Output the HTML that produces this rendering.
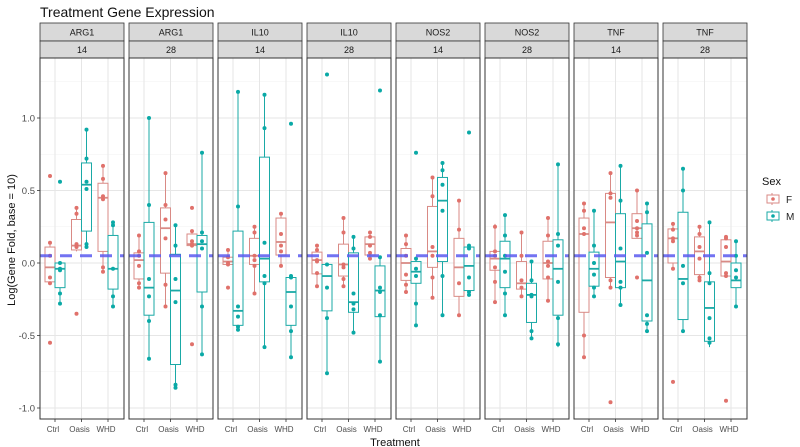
<!DOCTYPE html>
<html><head><meta charset="utf-8"><style>
html,body{margin:0;padding:0;background:#fff;}
svg{display:block;font-family:"Liberation Sans",Arial,sans-serif;}
</style></head><body>
<svg id="chart" width="800" height="447" viewBox="0 0 800 447" xmlns="http://www.w3.org/2000/svg">
<text x="40" y="17" font-size="14" fill="#111">Treatment Gene Expression</text>
<text transform="translate(15,240) rotate(-90)" text-anchor="middle" font-size="11" fill="#111">Log(Gene Fold, base = 10)</text>
<text x="395" y="446" text-anchor="middle" font-size="11" fill="#111">Treatment</text>
<g>
<text x="762" y="185" font-size="11" fill="#111">Sex</text>
<g><line x1="772" y1="193" x2="772" y2="205" stroke="#d98a85"/><rect x="767" y="195" width="12" height="8" fill="#fff" stroke="#d98a85"/><circle cx="773" cy="199" r="1.8" fill="#e0716b"/><text x="786" y="203" font-size="10" fill="#222">F</text></g>
<g><line x1="772" y1="210" x2="772" y2="222" stroke="#1aa9a6"/><rect x="767" y="212" width="12" height="8" fill="#fff" stroke="#1aa9a6"/><circle cx="773" cy="216" r="1.8" fill="#0aa9a6"/><text x="786" y="220" font-size="10" fill="#222">M</text></g>
</g>
</svg>
<script>
const genes=["ARG1","ARG1","IL10","IL10","NOS2","NOS2","TNF","TNF"];
const days=["14","28","14","28","14","28","14","28"];
const treatments=["Ctrl","Oasis","WHD"];
const yTicks=[-1.0,-0.5,0.0,0.5,1.0];
const yTickLabels=["-1.0","-0.5","0.0","0.5","1.0"];
const refLine=0.05;
const fStats=[
[[-0.14,-0.13,-0.03,0.11,0.14],[0.08,0.09,0.12,0.30,0.38],[-0.06,0.08,0.45,0.55,0.67]],
[[-0.17,-0.11,0.02,0.07,0.19],[-0.30,-0.07,0.24,0.38,0.62],[0.12,0.12,0.13,0.20,0.22]],
[[-0.01,-0.01,0.01,0.04,0.09],[-0.21,-0.01,0.05,0.17,0.25],[-0.02,0.055,0.145,0.31,0.345]],
[[-0.165,-0.075,0.02,0.075,0.12],[-0.165,-0.09,-0.01,0.13,0.31],[0.02,0.055,0.13,0.18,0.215]],
[[-0.20,-0.12,0.0,0.10,0.19],[-0.24,-0.03,0.08,0.39,0.59],[-0.37,-0.23,-0.03,0.17,0.43]],
[[-0.27,-0.05,0.03,0.08,0.27],[-0.23,-0.18,-0.14,0.01,0.21],[-0.26,-0.11,0.0,0.15,0.32]],
[[-0.65,-0.34,0.20,0.31,0.41],[-0.17,-0.10,0.28,0.48,0.62],[0.17,0.17,0.24,0.34,0.50]],
[[-0.04,0.0,0.17,0.235,0.27],[-0.13,-0.08,0.08,0.18,0.25],[-0.09,-0.09,0.01,0.16,0.19]]];
const mStats=[
[[-0.28,-0.17,-0.04,0.0,0.0],[0.11,0.22,0.54,0.69,0.92],[-0.30,-0.18,-0.04,0.19,0.28]],
[[-0.66,-0.36,-0.17,0.28,1.0],[-0.86,-0.70,-0.19,0.06,0.26],[-0.63,-0.20,0.13,0.19,0.76]],
[[-0.46,-0.43,-0.33,0.22,1.18],[-0.58,-0.13,0.03,0.73,1.16],[-0.65,-0.43,-0.20,-0.10,-0.09]],
[[-0.76,-0.33,-0.09,-0.01,-0.01],[-0.48,-0.34,-0.27,0.07,0.18],[-0.68,-0.37,-0.19,-0.02,0.04]],
[[-0.43,-0.14,-0.06,0.01,0.03],[-0.36,0.01,0.43,0.59,0.69],[-0.22,-0.19,-0.02,0.11,0.12]],
[[-0.37,-0.17,0.03,0.15,0.34],[-0.52,-0.41,-0.22,-0.14,0.01],[-0.58,-0.36,-0.04,0.16,0.68]],
[[-0.23,-0.16,-0.04,0.075,0.36],[-0.29,-0.17,0.01,0.34,0.67],[-0.47,-0.40,-0.12,0.27,0.41]],
[[-0.47,-0.39,-0.11,0.35,0.65],[-0.58,-0.54,-0.31,-0.13,0.28],[-0.30,-0.17,-0.12,0.0,0.15]]];
const fPts=[
[[0.6,0.14,0.05,-0.1,-0.14,-0.55],[0.38,0.34,0.13,0.12,0.11,-0.35],[0.67,0.58,0.46,0.44,-0.03,-0.06]],
[[0.19,0.08,0.05,-0.02,-0.14,-0.17],[0.62,0.4,0.3,0.17,-0.15,-0.3],[0.38,0.22,0.15,0.13,0.12,-0.56]],
[[0.09,0.04,0.0,-0.01,-0.17],[0.25,0.21,0.05,0.02,-0.02,-0.21],[0.34,0.2,0.12,0.08,-0.02]],
[[0.12,0.09,0.02,0.01,-0.07,-0.16],[0.31,0.21,-0.01,-0.03,-0.11,-0.16],[0.21,0.18,0.12,0.07,0.03]],
[[0.19,0.13,0.05,-0.08,-0.15,-0.2],[0.59,0.46,0.11,0.05,-0.1,-0.24],[0.43,0.23,-0.14,-0.36]],
[[0.25,0.08,0.05,-0.03,-0.13,-0.27],[0.21,0.05,-0.12,-0.17,-0.23],[0.31,0.19,0.01,-0.02,-0.1,-0.26]],
[[0.41,0.36,0.24,0.2,-0.5,-0.65],[0.62,0.48,0.45,-0.12,-0.17,-0.96],[0.5,0.29,0.24,0.21,0.19,-0.1]],
[[0.27,0.23,0.17,0.15,-0.04,-0.82],[0.25,0.2,0.11,0.03,-0.1,-0.12],[0.18,0.17,0.11,-0.07,-0.09,-0.95]]];
const mPts=[
[[0.56,0.0,-0.04,-0.05,-0.21,-0.28],[0.92,0.72,0.56,0.51,0.13,0.11],[0.28,0.26,-0.04,-0.23,-0.3]],
[[1.0,0.4,-0.11,-0.23,-0.4,-0.66],[0.26,0.12,-0.11,-0.27,-0.84,-0.86],[0.76,0.21,0.15,0.1,-0.3,-0.63]],
[[1.18,0.39,-0.3,-0.37,-0.44,-0.46],[1.16,0.93,0.14,-0.09,-0.14,-0.58],[0.96,-0.09,-0.1,-0.3,-0.47,-0.65]],
[[1.3,-0.01,-0.17,-0.38,-0.76],[0.18,0.1,-0.21,-0.28,-0.32,-0.48],[1.19,0.04,-0.17,-0.2,-0.36,-0.68]],
[[0.76,0.03,-0.04,-0.09,-0.28,-0.43],[0.69,0.64,0.54,0.36,-0.09,-0.36],[0.9,0.12,0.1,-0.1,-0.2,-0.22]],
[[0.33,0.19,0.05,-0.06,-0.21,-0.36],[0.01,-0.12,-0.22,-0.23,-0.47,-0.52],[0.68,0.2,0.12,-0.13,-0.38,-0.56]],
[[0.36,0.12,0.0,-0.08,-0.17,-0.23],[0.67,0.43,0.1,-0.13,-0.17,-0.29],[0.41,0.35,0.07,-0.36,-0.42,-0.47]],
[[0.65,0.5,-0.02,-0.14,-0.47],[0.28,-0.07,-0.14,-0.38,-0.52,-0.55],[0.15,0.05,-0.05,-0.1,-0.3]]];

const NS="http://www.w3.org/2000/svg";
const svg=document.getElementById('chart');
const PT=58,PB=419,PW=84,STEP=89,LEFT0=40;
function yS(v){return 263-145*v;}
function panelX(i){return LEFT0+STEP*i;}
function catX(i,j){return panelX(i)+15+j*26.5;}
function mk(tag,attrs,parent){const e=document.createElementNS(NS,tag);for(const k in attrs)e.setAttribute(k,attrs[k]);(parent||svg).appendChild(e);return e;}
const FC="#d98a85",FP="#e0716b",MC="#1aa9a6",MP="#0aa9a6";

for(let t=0;t<yTicks.length;t++){
  const lab=mk('text',{x:35,y:yS(yTicks[t])+3.5,'text-anchor':'end','font-size':'9.5',fill:'#4d4d4d'});
  
  
  lab.textContent=yTickLabels[t];
  const tk=mk('line',{x1:37,x2:40,y1:yS(yTicks[t]),y2:yS(yTicks[t]),stroke:'#333','stroke-width':0.8});
  
  
}

for(let i=0;i<genes.length;i++){
  const g=mk('g',{});
  
  
  const x0=panelX(i);
  const s1=mk('rect',{x:x0,y:23,width:PW,height:18,fill:'#d9d9d9',stroke:'#333','stroke-width':0.8},g);
  
  
  const s2=mk('rect',{x:x0,y:41,width:PW,height:17,fill:'#d9d9d9',stroke:'#333','stroke-width':0.8},g);
  
  
  const t1=mk('text',{x:x0+PW/2,y:35.5,'text-anchor':'middle','font-size':'9',fill:'#1a1a1a'},g);
  
  
  t1.textContent=genes[i];
  const t2=mk('text',{x:x0+PW/2,y:53,'text-anchor':'middle','font-size':'9',fill:'#1a1a1a'},g);
  
  
  t2.textContent=days[i];
  for(let v=-1.0;v<=1.26;v+=0.25){
    const major=Math.abs(Math.round(v*2)-v*2)<1e-6;
    const gl=mk('line',{x1:x0,x2:x0+PW,y1:yS(v),y2:yS(v),stroke:major?'#e6e6e6':'#f2f2f2','stroke-width':major?1:0.6},g);
    
    
  }
  for(let j=0;j<treatments.length;j++){
    const vl=mk('line',{x1:catX(i,j),x2:catX(i,j),y1:PT,y2:PB,stroke:'#e6e6e6','stroke-width':1},g);
    
    
    const xl=mk('text',{x:catX(i,j)-2,y:432,'text-anchor':'middle','font-size':'8',fill:'#4d4d4d'},g);
    
    
    xl.textContent=treatments[j];
    const tk=mk('line',{x1:catX(i,j),x2:catX(i,j),y1:PB,y2:PB+3,stroke:'#333','stroke-width':0.8},g);
    
    
  }
  const groups=[[fStats,fPts,-5,FC,FP,'f'],[mStats,mPts,5,MC,MP,'m']];
  for(let j=0;j<treatments.length;j++){
    for(const [st,pts,dx,col,pc,sx] of groups){
      const s=st[i][j];const cx=catX(i,j)+dx;
      const bg=mk('g',{},g);
      
      
      mk('line',{x1:cx,x2:cx,y1:yS(s[4]),y2:yS(s[3]),stroke:col,'stroke-width':1},bg);
      mk('line',{x1:cx,x2:cx,y1:yS(s[1]),y2:yS(s[0]),stroke:col,'stroke-width':1},bg);
      mk('rect',{x:cx-5,y:yS(s[3]),width:10,height:Math.max(0.5,yS(s[1])-yS(s[3])),fill:'#fff','fill-opacity':0.6,stroke:col,'stroke-width':1},bg);
      mk('line',{x1:cx-5,x2:cx+5,y1:yS(s[2]),y2:yS(s[2]),stroke:col,'stroke-width':1.8},bg);
      for(const v of pts[i][j]){
        const p=mk('circle',{cx:cx,cy:yS(v),r:2,fill:pc},bg);
        
        
      }
    }
  }
  const rl=mk('line',{x1:x0,x2:x0+PW,y1:yS(refLine),y2:yS(refLine),stroke:'#5b5bf0','stroke-opacity':0.85,'stroke-width':3,'stroke-dasharray':'12 8'},g);
  
  
  const pb=mk('rect',{x:x0,y:PT,width:PW,height:PB-PT,fill:'none',stroke:'#333','stroke-width':1},g);
  
  
}
</script>
</body></html>
